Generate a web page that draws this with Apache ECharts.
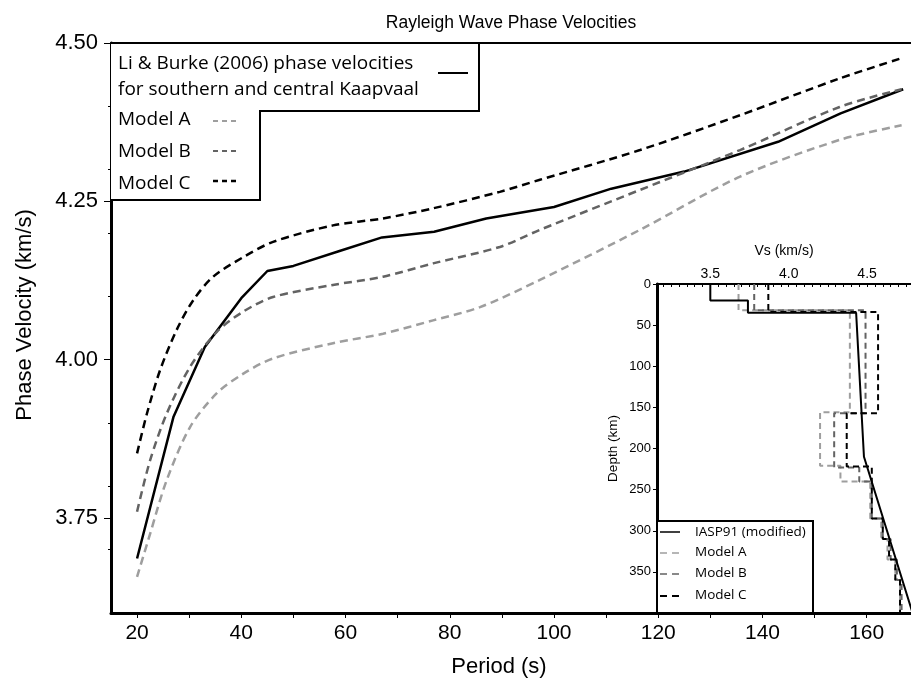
<!DOCTYPE html>
<html>
<head>
<meta charset="utf-8">
<script src="https://cdn.jsdelivr.net/npm/echarts@6/dist/echarts.min.js"></script>
<style>
  html, body { margin: 0; padding: 0; background: #fff; }
  #chart { width: 911px; height: 681px; }
</style>
</head>
<body>
<div id="chart"></div>
<script>
// main panel: Rayleigh wave phase velocity vs period
const liBurkePeriod = [20, 27, 33, 40, 45, 50, 59, 67, 77, 87, 100, 111, 125, 143, 155, 167]
const liBurkeVel = [3.686, 3.910, 4.020, 4.097, 4.140, 4.148, 4.172, 4.193, 4.202, 4.223, 4.241, 4.270, 4.297, 4.344, 4.389, 4.427]

const modelAPeriod = [20, 22.5, 25.7, 30.2, 35.3, 40.4, 46.1, 57.6, 67.2, 76.8, 85.8, 97.3, 116.5, 135.7, 154.8, 166.7]
const modelAVel = [3.657, 3.725, 3.810, 3.894, 3.947, 3.978, 4.002, 4.026, 4.041, 4.062, 4.083, 4.126, 4.205, 4.289, 4.347, 4.370]

const modelBPeriod = [20, 22.5, 25.7, 30.2, 35.3, 40.4, 46.1, 57.6, 67.2, 76.8, 89.6, 97.3, 116.5, 135.7, 154.8, 166.7]
const modelBVel = [3.760, 3.841, 3.915, 3.989, 4.044, 4.076, 4.099, 4.118, 4.131, 4.152, 4.178, 4.205, 4.268, 4.331, 4.399, 4.427]

const modelCPeriod = [20, 21.9, 24.4, 27.6, 30.8, 34.6, 40.4, 46.1, 57.6, 67.2, 76.8, 89.6, 97.3, 116.5, 135.7, 154.8, 166.7]
const modelCVel = [3.852, 3.915, 3.983, 4.047, 4.094, 4.131, 4.162, 4.186, 4.212, 4.223, 4.239, 4.265, 4.284, 4.331, 4.386, 4.444, 4.476]

const periodTicks = [20, 40, 60, 80, 100, 120, 140, 160]
const periodMinor = [20, 30, 40, 50, 60, 70, 80, 90, 100, 110, 120, 130, 140, 150, 160]
const velTicks = [3.75, 4.0, 4.25, 4.5]
const velMinor = [3.7, 3.8, 3.9, 4.1, 4.2, 4.3, 4.4]

// inset: shear velocity profiles
const iaspVs = [3.5, 3.5, 3.74, 3.74, 4.43, 4.48, 4.79]
const iaspDepth = [0, 20, 20, 35, 35, 210, 400]

const profAVs = [3.68, 3.68, 4.39, 4.39, 4.20, 4.20, 4.33, 4.33, 4.52, 4.52, 4.59, 4.59, 4.63, 4.63, 4.68, 4.68, 4.71, 4.71]
const profADepth = [0, 32, 32, 156, 156, 221, 221, 240, 240, 285, 285, 310, 310, 335, 335, 360, 360, 400]

const profBVs = [3.78, 3.78, 4.49, 4.49, 4.29, 4.29, 4.45, 4.45, 4.53, 4.53, 4.60, 4.60, 4.65, 4.65, 4.69, 4.69, 4.72, 4.72]
const profBDepth = [0, 32, 32, 157, 157, 223, 223, 240, 240, 285, 285, 310, 310, 335, 335, 360, 360, 400]

const profCVs = [3.87, 3.87, 4.57, 4.57, 4.37, 4.37, 4.53, 4.53, 4.53, 4.60, 4.60, 4.64, 4.64, 4.68, 4.68, 4.71, 4.71]
const profCDepth = [0, 34, 34, 157, 157, 222, 222, 240, 285, 285, 310, 310, 335, 335, 360, 360, 400]

const depthTicks = [0, 50, 100, 150, 200, 250, 300, 350]
const vsTicks = [3.5, 4.0, 4.5]
const vsMinor = []
for (let v = 3.2; v < 4.78; v += 0.05) vsMinor.push(Math.round(v * 100) / 100)

const colA = '#9e9e9e'
const colB = '#636363'
const colC = '#000000'

const zip = (a, b) => a.map((v, i) => [v, b[i]])

const chart = echarts.init(document.getElementById('chart'))

const sans = 'Liberation Sans'
const legFont = 'Open Sans'
const legText = (txt, x, y, size) => ({
  type: 'text', z: 11, left: x, top: y,
  style: { text: txt, font: size + 'px "' + legFont + '"', fill: '#000' },
})

const option = {
  animation: false,
  backgroundColor: '#fff',
  title: {
    text: 'Rayleigh Wave Phase Velocities',
    left: 506,
    top: 9,
    textAlign: 'center',
    textStyle: { fontFamily: sans, fontSize: 17.5, fontWeight: 'normal', color: '#000' },
  },
  grid: [
    { left: 111, top: 43, right: 0, bottom: 68 },
    { left: 657, top: 284, right: 0, bottom: 68, show: true, backgroundColor: '#fff', borderWidth: 0 },
  ],
  xAxis: [
    {
      // period axis
      type: 'value', gridIndex: 0, min: 15, max: 168.5,
      axisLine: { lineStyle: { color: '#000', width: 3 } },
      axisTick: { customValues: periodMinor, length: 5, lineStyle: { color: '#000', width: 1 } },
      axisLabel: {
        customValues: periodTicks, margin: 10,
        fontFamily: sans, fontSize: 21, color: '#000',
      },
      splitLine: { show: false },
    },
    {
      // top frame line only
      type: 'value', gridIndex: 0, min: 15, max: 168.5, position: 'top',
      axisLine: { lineStyle: { color: '#000', width: 2 } },
      axisTick: { show: false }, axisLabel: { show: false }, splitLine: { show: false },
    },
    {
      // inset Vs axis
      type: 'value', gridIndex: 1, min: 3.16, max: 4.78, position: 'top',
      name: 'Vs (km/s)', nameLocation: 'middle', nameGap: 26,
      nameTextStyle: { fontFamily: sans, fontSize: 14, color: '#000' },
      axisLine: { lineStyle: { color: '#000', width: 2 } },
      axisTick: { customValues: vsMinor, inside: true, length: 3, lineStyle: { color: '#000', width: 1 } },
      axisLabel: {
        customValues: vsTicks, margin: 3,
        formatter: v => v.toFixed(1),
        fontFamily: sans, fontSize: 14, color: '#000',
      },
      splitLine: { show: false },
    },
  ],
  yAxis: [
    {
      // velocity axis, labelled ticks
      type: 'value', gridIndex: 0, min: 3.6, max: 4.5,
      axisLine: { lineStyle: { color: '#000', width: 3 } },
      axisTick: { customValues: velTicks, length: 7, lineStyle: { color: '#000', width: 1 } },
      axisLabel: {
        customValues: velTicks, margin: 13,
        formatter: v => v.toFixed(2),
        fontFamily: sans, fontSize: 22, color: '#000',
      },
      splitLine: { show: false },
    },
    {
      // velocity minor ticks
      type: 'value', gridIndex: 0, min: 3.6, max: 4.5, position: 'left',
      axisLine: { show: false },
      axisTick: { customValues: velMinor, length: 3, lineStyle: { color: '#000', width: 1 } },
      axisLabel: { show: false }, splitLine: { show: false },
    },
    {
      // inset depth
      type: 'value', gridIndex: 1, min: 0, max: 400, inverse: true,
      name: 'Depth (km)', nameLocation: 'middle', nameGap: 37,
      nameTextStyle: { fontFamily: sans, fontSize: 13.5, color: '#000' },
      axisLine: { lineStyle: { color: '#000', width: 3 } },
      axisTick: { customValues: depthTicks, length: 4, lineStyle: { color: '#000', width: 1 } },
      axisLabel: {
        customValues: depthTicks, margin: 6,
        fontFamily: sans, fontSize: 13, color: '#000',
      },
      splitLine: { show: false },
    },
  ],
  series: [
    {
      name: 'Li & Burke', type: 'line', xAxisIndex: 0, yAxisIndex: 0,
      data: zip(liBurkePeriod, liBurkeVel), showSymbol: false, symbol: 'none',
      lineStyle: { color: '#000', width: 2.5 },
    },
    {
      name: 'Model A', type: 'line', xAxisIndex: 0, yAxisIndex: 0, smooth: 0.3,
      data: zip(modelAPeriod, modelAVel), showSymbol: false, symbol: 'none',
      lineStyle: { color: colA, width: 2.5, type: [8, 5] },
    },
    {
      name: 'Model B', type: 'line', xAxisIndex: 0, yAxisIndex: 0, smooth: 0.3,
      data: zip(modelBPeriod, modelBVel), showSymbol: false, symbol: 'none',
      lineStyle: { color: colB, width: 2.5, type: [8, 5] },
    },
    {
      name: 'Model C', type: 'line', xAxisIndex: 0, yAxisIndex: 0, smooth: 0.3,
      data: zip(modelCPeriod, modelCVel), showSymbol: false, symbol: 'none',
      lineStyle: { color: colC, width: 2.5, type: [8, 5] },
    },
    {
      name: 'Profile A', type: 'line', xAxisIndex: 2, yAxisIndex: 2, z: 5,
      data: zip(profAVs, profADepth), showSymbol: false, symbol: 'none',
      lineStyle: { color: colA, width: 2, type: [6, 4] },
    },
    {
      name: 'Profile B', type: 'line', xAxisIndex: 2, yAxisIndex: 2, z: 5,
      data: zip(profBVs, profBDepth), showSymbol: false, symbol: 'none',
      lineStyle: { color: colB, width: 2, type: [6, 4] },
    },
    {
      name: 'Profile C', type: 'line', xAxisIndex: 2, yAxisIndex: 2, z: 5,
      data: zip(profCVs, profCDepth), showSymbol: false, symbol: 'none',
      lineStyle: { color: colC, width: 2, type: [6, 4] },
    },
    {
      name: 'IASP91', type: 'line', xAxisIndex: 2, yAxisIndex: 2, z: 6,
      data: zip(iaspVs, iaspDepth), showSymbol: false, symbol: 'none',
      lineStyle: { color: '#000', width: 2 },
    },
  ],
  graphic: [
    // axis titles
    {
      type: 'text', x: 25, y: 315, rotation: Math.PI / 2,
      style: { text: 'Phase Velocity (km/s)', font: '22px "' + sans + '"', fill: '#000', align: 'center', verticalAlign: 'middle' },
    },
    {
      type: 'text', x: 499, y: 667,
      style: { text: 'Period (s)', font: '22px "' + sans + '"', fill: '#000', align: 'center', verticalAlign: 'middle' },
    },
    // main legend, stepped box
    {
      type: 'polyline', z: 10,
      shape: { points: [[111, 43], [479, 43], [479, 111], [260, 111], [260, 200], [111, 200]] },
      style: { stroke: '#000', lineWidth: 2, fill: '#fff' },
    },
    legText('Li & Burke (2006) phase velocities', 118, 54, 19),
    legText('for southern and central Kaapvaal', 118, 80, 19),
    legText('Model A', 118, 110, 19),
    legText('Model B', 118, 142, 19),
    legText('Model C', 118, 174, 19),
    { type: 'line', z: 11, shape: { x1: 438, y1: 73, x2: 468, y2: 73 }, style: { stroke: '#000', lineWidth: 2 } },
    { type: 'line', z: 11, shape: { x1: 213, y1: 121, x2: 240, y2: 121 }, style: { stroke: colA, lineWidth: 2, lineDash: [5, 4] } },
    { type: 'line', z: 11, shape: { x1: 213, y1: 151, x2: 240, y2: 151 }, style: { stroke: colB, lineWidth: 2, lineDash: [5, 4] } },
    { type: 'line', z: 11, shape: { x1: 213, y1: 181, x2: 240, y2: 181 }, style: { stroke: colC, lineWidth: 2.5, lineDash: [5, 4] } },
    // inset legend
    {
      type: 'rect', z: 10,
      shape: { x: 657, y: 521, width: 156, height: 92 },
      style: { stroke: '#000', lineWidth: 2, fill: '#fff' },
    },
    { type: 'line', z: 11, shape: { x1: 660, y1: 532, x2: 680, y2: 532 }, style: { stroke: '#000', lineWidth: 1.5 } },
    { type: 'line', z: 11, shape: { x1: 660, y1: 553, x2: 680, y2: 553 }, style: { stroke: colA, lineWidth: 1.5, lineDash: [7, 5] } },
    { type: 'line', z: 11, shape: { x1: 660, y1: 574, x2: 680, y2: 574 }, style: { stroke: colB, lineWidth: 1.5, lineDash: [7, 5] } },
    { type: 'line', z: 11, shape: { x1: 660, y1: 596, x2: 680, y2: 596 }, style: { stroke: colC, lineWidth: 2, lineDash: [7, 5] } },
    legText('IASP91 (modified)', 695, 525, 13.5),
    legText('Model A', 695, 545, 13.5),
    legText('Model B', 695, 566, 13.5),
    legText('Model C', 695, 588, 13.5),
  ],
}

chart.setOption(option)
</script>
</body>
</html>
